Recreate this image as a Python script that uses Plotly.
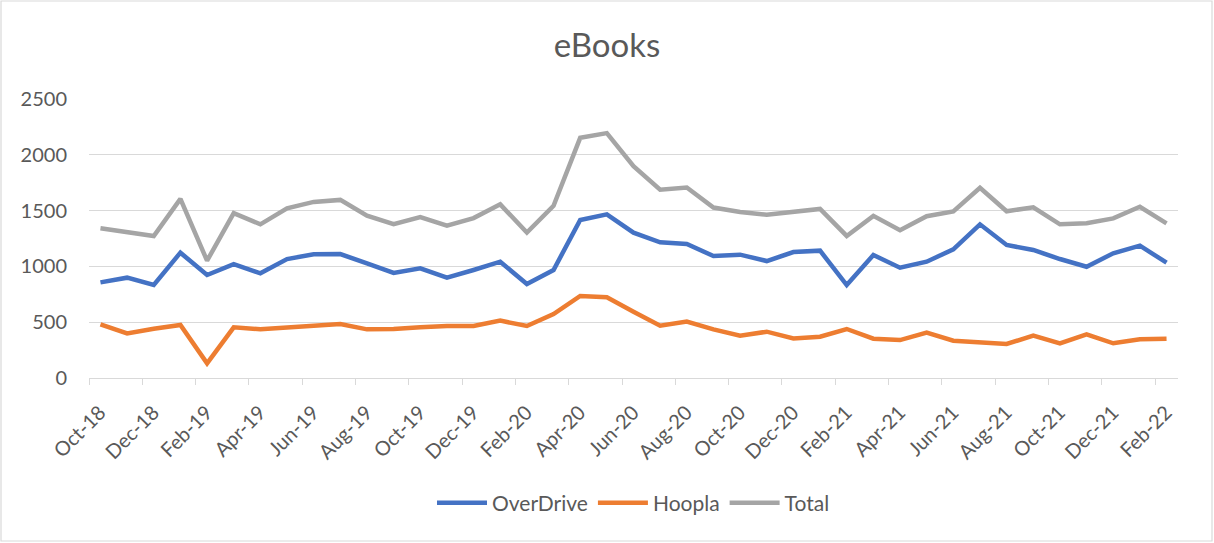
import plotly.graph_objects as go

months = ["Oct-18", "Nov-18", "Dec-18", "Jan-19", "Feb-19", "Mar-19", "Apr-19", "May-19",
          "Jun-19", "Jul-19", "Aug-19", "Sep-19", "Oct-19", "Nov-19", "Dec-19", "Jan-20",
          "Feb-20", "Mar-20", "Apr-20", "May-20", "Jun-20", "Jul-20", "Aug-20", "Sep-20",
          "Oct-20", "Nov-20", "Dec-20", "Jan-21", "Feb-21", "Mar-21", "Apr-21", "May-21",
          "Jun-21", "Jul-21", "Aug-21", "Sep-21", "Oct-21", "Nov-21", "Dec-21", "Jan-22",
          "Feb-22"]

overdrive = [857, 899, 833, 1123, 923, 1021, 938, 1066, 1108, 1111, 1027, 941, 983, 899,
             968, 1042, 842, 968, 1416, 1466, 1302, 1216, 1201, 1093, 1105, 1048, 1129,
             1141, 833, 1102, 988, 1042, 1153, 1377, 1192, 1147, 1066, 997, 1117, 1186, 1033]

hoopla = [481, 400, 442, 475, 131, 454, 436, 455, 466, 484, 436, 439, 454, 466, 466, 514,
          466, 573, 735, 723, 594, 469, 505, 436, 379, 415, 355, 370, 439, 352, 340, 406,
          334, 323, 305, 379, 311, 391, 311, 347, 352]

total = [1341, 1302, 1272, 1605, 1051, 1478, 1377, 1520, 1578, 1596, 1455, 1378, 1442,
         1365, 1433, 1556, 1304, 1543, 2152, 2194, 1898, 1688, 1707, 1527, 1487, 1462,
         1487, 1515, 1273, 1453, 1324, 1450, 1492, 1704, 1494, 1530, 1377, 1387, 1430,
         1534, 1386]

y_ticks = [0, 500, 1000, 1500, 2000, 2500]

FONT = "Lato, 'Open Sans', sans-serif"
TXT = "#595959"
GRID = "#d9d9d9"

x = list(range(len(months)))

fig = go.Figure()
series = [("OverDrive", overdrive, "#4472C4"),
          ("Hoopla", hoopla, "#ED7D31"),
          ("Total", total, "#A5A5A5")]
for name, vals, col in series:
    fig.add_trace(go.Scatter(x=x, y=vals, name=name, mode="lines",
                             line=dict(color=col, width=4.5)))

W, H = 1214, 543
ml, mr, mt, mb = 89, 36, 99, 165
pw, ph = W - ml - mr, H - mt - mb

def px_x(p):
    return (p - ml) / pw

def px_y(p):
    return (H - mb - p) / ph

tick_pos = [i - 0.43 for i in range(0, len(months), 2)]

fig.update_layout(
    width=W, height=H,
    margin=dict(l=ml, r=mr, t=mt, b=mb),
    paper_bgcolor="white", plot_bgcolor="white",
    font=dict(family=FONT, color=TXT, size=20),
    title=dict(text="eBooks", x=0.5, xanchor="center", y=1 - 45 / H, yanchor="middle",
               font=dict(size=33, color=TXT, family=FONT)),
    showlegend=True,
    legend=dict(orientation="h", x=0.5, xanchor="center", y=px_y(503), yanchor="middle",
                font=dict(size=21, color=TXT), itemwidth=50, bgcolor="rgba(0,0,0,0)"),
    xaxis=dict(range=[-0.43, len(months) - 1 + 0.43], tickmode="array",
               tickvals=tick_pos, ticktext=months[::2], tickangle=-45,
               ticklabelshift=11, ticklabelstandoff=8, ticks="outside", ticklen=6,
               tickcolor=GRID,
               showgrid=False, zeroline=False, showline=True, linecolor=GRID, linewidth=1,
               tickfont=dict(size=20, color=TXT, family=FONT)),
    yaxis=dict(range=[0, 2500], tickvals=y_ticks, showgrid=True, gridcolor=GRID,
               gridwidth=1, zeroline=False, showline=False, ticks="",
               tickfont=dict(size=20, color=TXT, family=FONT), ticklabelstandoff=21),
    shapes=[dict(type="rect", xref="paper", yref="paper",
                 x0=px_x(1), x1=px_x(1212), y0=px_y(541), y1=px_y(1),
                 line=dict(color=GRID, width=1.2), fillcolor="rgba(0,0,0,0)", layer="below")],
)

fig.write_html("out.html", config={"displayModeBar": False},
               post_script="document.body.style.margin='0';document.body.style.padding='0';")
